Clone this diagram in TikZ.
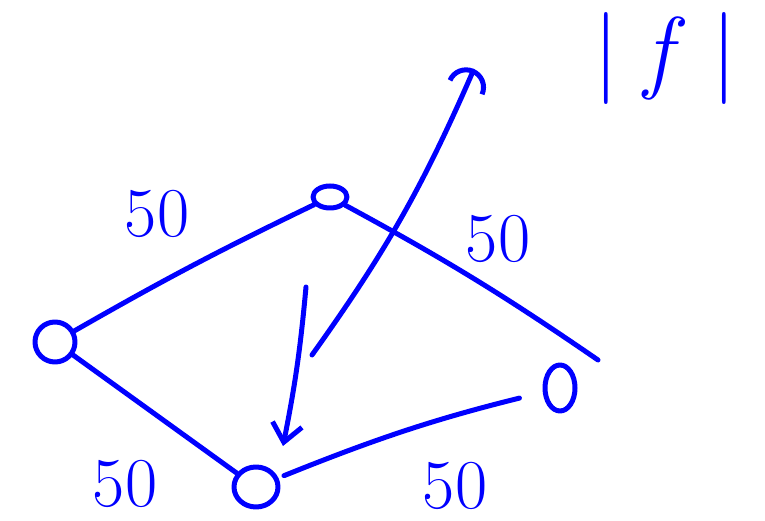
\documentclass[tikz,border=0pt]{standalone}
\usepackage{tikz}
\usetikzlibrary{arrows.meta,shapes.geometric}

\begin{document}
\begin{tikzpicture}[x=1pt, y=1pt,
  pen/.style={draw=blue, line width=5pt, line cap=round, line join=round},
  vtx/.style={pen, ellipse, inner sep=0pt},
  lbl/.style={text=blue, font=\fontsize{70}{70}\selectfont},
  arr/.style={pen}]
\useasboundingbox (0,0) rectangle (765,521);
\node[vtx, minimum width=34pt, minimum height=22pt] (top) at (330,324) {};
\node[vtx, minimum width=40pt, minimum height=40pt] (left) at (55,179) {};
\node[vtx, minimum width=44pt, minimum height=40pt] (bot) at (256,34) {};
\node[vtx, minimum width=30pt, minimum height=46pt] (right) at (560,133) {};
\coordinate (tre) at (598,161);
\draw[pen] (left) to[bend left=2] (top);
\draw[pen] (top) to[bend left=3] (tre);
\draw[pen] (left) -- (bot);
\draw[pen, shorten <=6pt, shorten >=24pt] (bot) to[bend left=4] (right);
\coordinate (upfrom) at (312,166);
\coordinate (upto) at (474,452);
\draw[arr, -{Arc Barb[length=20pt, width=40pt]}] (upfrom) to[bend right=6] (upto);
\coordinate (dnfrom) at (306,234);
\coordinate (dnto) at (283,75);
\draw[arr, -{Straight Barb[length=18pt, width=30pt]}] (dnfrom) to[bend left=3] (dnto);
\node[lbl] (c1) at (157,307) {50};
\node[lbl] (c2) at (498,282) {50};
\node[lbl] (c3) at (125,37) {50};
\node[lbl] (c4) at (455,35) {50};
\node[text=blue, font=\fontsize{92}{92}\selectfont] (val) at (665,462) {|\;\textit{f}\;|};
\end{tikzpicture}
\end{document}
